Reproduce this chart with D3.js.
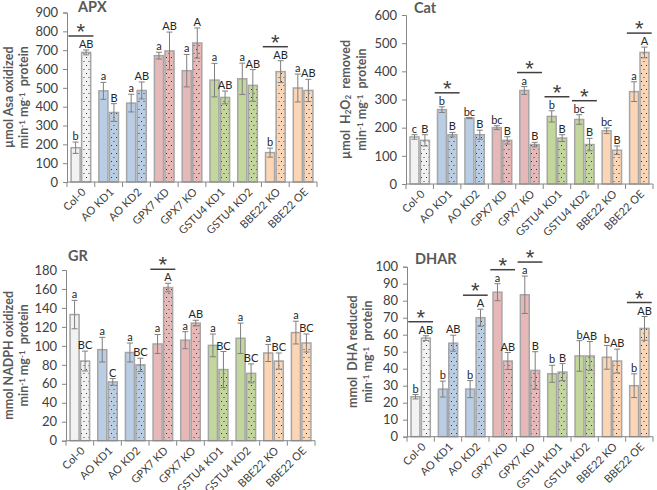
<!DOCTYPE html>
<html><head><meta charset="utf-8">
<script src="https://cdn.jsdelivr.net/npm/d3@7"></script>
<style>body{margin:0;background:#fff}svg{display:block}</style>
</head><body>
<script>
const categories = ["Col-0","AO KD1","AO KD2","GPX7 KD","GPX7 KO","GSTU4 KD1","GSTU4 KD2","BBE22 KO","BBE22 OE"];
const groupColors = ["#f2f2f2","#b9cde5","#b9cde5","#e6b9b8","#e6b9b8","#c3d69b","#c3d69b","#fcd5b5","#fcd5b5"];

const apxSolid = [182,484,419,671,591,541,548,156,499];
const apxSolidErr = [30,45,47,18,86,89,83,24,74];
const apxDotted = [688,369,486,696,738,449,513,586,486];
const apxDottedErr = [13,47,45,100,80,34,84,58,59];
const apxLower = ["b","a","a","a","a","a","a","b","a"];
const apxUpper = ["AB","B","AB","AB","A","AB","AB","AB","AB"];
const apxStars = [0,7];
const apxTicks = [0,100,200,300,400,500,600,700,800,900];

const catSolid = [167,264,234,200,332,240,229,189,328];
const catSolidErr = [8,10,2,7,14,20,17,10,35];
const catDotted = [155,175,175,155,140,163,140,120,467];
const catDottedErr = [20,8,16,13,8,12,22,15,19];
const catLower = ["c","b","bc","bc","a","b","bc","bc","a"];
const catUpper = ["B","B","B","B","B","B","B","B","A"];
const catStars = [1,4,5,6,8];
const catTicks = [0,100,200,300,400,500,600];

const grSolid = [133,96,93,102,106,100.5,108,92.5,114];
const grSolidErr = [15,13,10,10,9,12,16,9,12];
const grDotted = [84,62,80,161.5,124,75,71,84,103];
const grDottedErr = [10.5,3.5,7,4.5,3,19,10,8.5,9.5];
const grLower = ["a","a","a","a","a","a","a","a","a"];
const grUpper = ["BC","C","BC","A","AB","BC","BC","BC","BC"];
const grStars = [3];
const grTicks = [0,20,40,60,80,100,120,140,160,180];

const dharSolid = [23.5,28,28,85,83.5,37,47.5,46.7,30];
const dharSolidErr = [1.3,4.7,5,5,11,5,9,7,7];
const dharDotted = [58,55,70,44.5,39,38,47.5,44.5,63.7];
const dharDottedErr = [1.4,4.7,5,5,11,5,8.5,7,7];
const dharLower = ["b","b","b","a","a","b","b","b","b"];
const dharUpper = ["AB","AB","A","AB","B","B","AB","AB","AB"];
const dharStars = [0,2,3,4,8];
const dharTicks = [0,10,20,30,40,50,60,70,80,90,100];

const FONT = "Lato, 'Open Sans', sans-serif";
const svg = d3.select("body").append("svg").attr("width",657).attr("height",490)
  .style("font-family",FONT);
const defs = svg.append("defs");
const uniqColors = Array.from(new Set(groupColors));
uniqColors.forEach((c,i)=>{
  const p = defs.append("pattern").attr("id","dot"+i).attr("patternUnits","userSpaceOnUse")
    .attr("width",5).attr("height",8);
  p.append("rect").attr("width",5).attr("height",8).attr("fill",c);
  p.append("rect").attr("x",1).attr("y",1).attr("width",1).attr("height",1).attr("fill","#333");
  p.append("rect").attr("x",3.5).attr("y",5).attr("width",1).attr("height",1).attr("fill","#333");
});
const patFor = c => "url(#dot"+uniqColors.indexOf(c)+")";

const supLine = [{t:"min"},{t:"-1",s:"sup"},{t:" mg"},{t:"-1",s:"sup"},{t:"  protein"}];
const panels = [
  {title:"APX", x0:67, x1:317, yT:12.5, y0:182, ticks:apxTicks, solid:apxSolid, solidErr:apxSolidErr, dotted:apxDotted, dottedErr:apxDottedErr, lower:apxLower, upper:apxUpper, stars:apxStars,
   ylab:[[{t:"µmol Asa oxidized"}],supLine], lx:[9,24], tx:78, ty:12},
  {title:"Cat", x0:406, x1:653, yT:15, y0:184, ticks:catTicks, solid:catSolid, solidErr:catSolidErr, dotted:catDotted, dottedErr:catDottedErr, lower:catLower, upper:catUpper, stars:catStars,
   ylab:[[{t:"µmol  H"},{t:"2",s:"sub"},{t:"O"},{t:"2",s:"sub"},{t:"  removed"}],supLine], lx:[346,362], tx:414, ty:13},
  {title:"GR", x0:66, x1:315, yT:270, y0:440.7, ticks:grTicks, solid:grSolid, solidErr:grSolidErr, dotted:grDotted, dottedErr:grDottedErr, lower:grLower, upper:grUpper, stars:grStars,
   ylab:[[{t:"mmol NADPH oxidized"}],supLine], lx:[9,24], tx:68, ty:261},
  {title:"DHAR", x0:407, x1:653, yT:266.7, y0:436.7, ticks:dharTicks, solid:dharSolid, solidErr:dharSolidErr, dotted:dharDotted, dottedErr:dharDottedErr, lower:dharLower, upper:dharUpper, stars:dharStars,
   ylab:[[{t:"mmol  DHA reduced"}],supLine], lx:[353,368], tx:415, ty:264}
];

const AX = "#868686", TXT = "#404040", TTL = "#595959";

panels.forEach(P=>{
  const g = svg.append("g");
  const x = d3.scaleBand().domain(categories).range([P.x0,P.x1]).paddingInner(0.24).paddingOuter(0.12);
  const xs = d3.scaleBand().domain(["s","d"]).range([0,x.bandwidth()]);
  const y = d3.scaleLinear().domain([0,d3.max(P.ticks)]).range([P.y0,P.yT]);

  const ya = g.append("g").attr("transform",`translate(${P.x0},0)`)
    .call(d3.axisLeft(y).tickValues(P.ticks).tickSize(4).tickPadding(5));
  ya.select(".domain").attr("stroke",AX).attr("stroke-width",1);
  ya.selectAll(".tick line").attr("stroke",AX);
  ya.selectAll(".tick text").attr("fill",TXT).style("font-size","13px").style("font-family",FONT);

  const step = x.step();
  categories.forEach((c,i)=>{
    const bx = x(c);
    const col = groupColors[i];
    const rows = [
      {v:P.solid[i], e:P.solidErr[i], k:"s", fill:col, lab:P.lower[i]},
      {v:P.dotted[i], e:P.dottedErr[i], k:"d", fill:patFor(col), lab:P.upper[i]}
    ];
    rows.forEach(r=>{
      const xx = bx + xs(r.k);
      const w = xs.bandwidth();
      g.append("rect").attr("x",xx+0.75).attr("y",y(r.v)).attr("width",w-1.5).attr("height",y(0)-y(r.v))
        .attr("fill",r.fill).attr("stroke","#a6a6a6").attr("stroke-width",1.5);
      const cx = xx + w/2;
      g.append("line").attr("x1",cx).attr("x2",cx).attr("y1",y(r.v-r.e)).attr("y2",y(r.v+r.e)).attr("stroke","#7f7f7f").attr("stroke-width",1);
      [r.v-r.e, r.v+r.e].forEach(vv=>{
        g.append("line").attr("x1",cx-3).attr("x2",cx+3).attr("y1",y(vv)).attr("y2",y(vv)).attr("stroke","#7f7f7f").attr("stroke-width",1);
      });
      g.append("text").attr("x",cx).attr("y",y(r.v+r.e)-2).attr("text-anchor","middle")
        .attr("fill","#262626").style("font-size","11px").text(r.lab);
    });
    if (P.stars.includes(i)) {
      const top = Math.min(y(P.solid[i]+P.solidErr[i]), y(P.dotted[i]+P.dottedErr[i]));
      const ly = top - 14;
      g.append("line").attr("x1",bx-2).attr("x2",bx+x.bandwidth()+2).attr("y1",ly).attr("y2",ly)
        .attr("stroke","#404040").attr("stroke-width",1.5);
      g.append("text").attr("x",bx+x.bandwidth()/2).attr("y",ly+3).attr("text-anchor","middle")
        .attr("fill","#404040").style("font-size","22px").style("font-family","'Liberation Sans', sans-serif").text("*");
    }
  });

  g.append("line").attr("x1",P.x0).attr("x2",P.x1).attr("y1",P.y0).attr("y2",P.y0).attr("stroke",AX);
  d3.range(categories.length+1).forEach(k=>{
    const tx = P.x0 + k*step;
    g.append("line").attr("x1",tx).attr("x2",tx).attr("y1",P.y0).attr("y2",P.y0+5).attr("stroke",AX);
  });
  categories.forEach(c=>{
    const cx = x(c)+x.bandwidth()/2;
    g.append("text").attr("transform",`translate(${cx+3},${P.y0+8}) rotate(-45)`)
      .attr("text-anchor","end").attr("dy","0.35em").attr("fill",TXT).style("font-size","11px").text(c);
  });

  g.append("text").attr("x",P.tx).attr("y",P.ty).attr("fill",TTL).style("font-size","14.5px").style("font-weight","bold").text(P.title);

  const ym = (P.y0+P.yT)/2;
  P.ylab.forEach((parts,li)=>{
    const t = g.append("text").attr("transform",`translate(${P.lx[li]+4},${ym}) rotate(-90)`)
      .attr("text-anchor","middle").attr("fill",TTL).style("font-size","12.5px").style("font-weight","bold")
      .style("white-space","pre");
    parts.forEach(p=>{
      const ts = t.append("tspan").text(p.t);
      if (p.s==="sup") ts.attr("baseline-shift","35%").style("font-size","8px");
      if (p.s==="sub") ts.attr("baseline-shift","-15%").style("font-size","8px");
    });
  });
});
</script>
</body></html>
